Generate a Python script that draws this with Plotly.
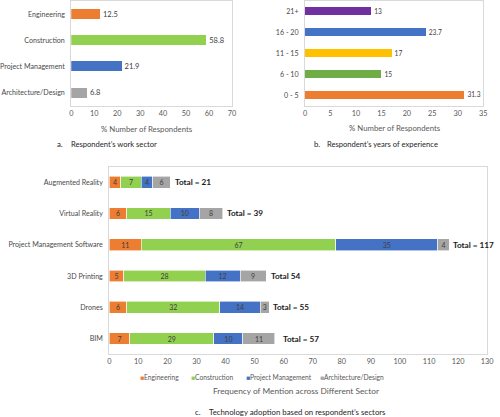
import plotly.graph_objects as go

# ---------------- data ----------------
sectors = ["Engineering", "Construction", "Project Management", "Architecture/Design"]
sector_pct = [12.5, 58.8, 21.9, 6.8]

experience = ["0 - 5", "6 - 10", "11 - 15", "16 - 20", "21+"]
experience_pct = [31.3, 15, 17, 23.7, 13]

technologies = ["Augmented Reality", "Virtual Reality", "Project Management Software",
                "3D Printing", "Drones", "BIM"]
tech_engineering = [4, 6, 11, 5, 6, 7]
tech_construction = [7, 15, 67, 28, 32, 29]
tech_pm = [4, 10, 35, 12, 14, 10]
tech_arch = [6, 8, 4, 9, 3, 11]
tech_total_labels = ["Total = 21", "Total = 39", "Total = 117", "Total 54", "Total = 55", "Total = 57"]

# ---------------- style ----------------
FONT = "Lato"
C_ENG = "#ED7D31"
C_CON = "#92D050"
C_PM = "#4472C4"
C_ARCH = "#A5A5A5"
sector_colors = [C_ENG, C_CON, C_PM, C_ARCH]
exp_colors = ["#ED7D31", "#70AD47", "#FFC000", "#4472C4", "#7030A0"]
TICK = "#595959"
LINE = "#D9D9D9"
W, H = 500, 417


def px_x(p):
    return p / W


def px_y(p):
    return 1 - p / H


fig = go.Figure()

# panel a
fig.add_trace(go.Bar(
    x=sector_pct, y=sectors, orientation="h", xaxis="x", yaxis="y",
    marker=dict(color=sector_colors, line=dict(width=0)),
    text=[f"{v:g}" for v in sector_pct], textposition="outside",
    textfont=dict(size=7.5, color="#404040", family=FONT),
    cliponaxis=False, showlegend=False, hoverinfo="skip"))

# panel b
fig.add_trace(go.Bar(
    x=experience_pct, y=experience, orientation="h", xaxis="x2", yaxis="y2",
    marker=dict(color=exp_colors, line=dict(width=0)),
    text=[f"{v:g}" for v in experience_pct], textposition="outside",
    textfont=dict(size=7.5, color="#404040", family=FONT),
    cliponaxis=False, showlegend=False, hoverinfo="skip"))

# panel c
series_c = [("Engineering", tech_engineering, C_ENG),
            ("Construction", tech_construction, C_CON),
            ("Project Management", tech_pm, C_PM),
            ("Architecture/Design", tech_arch, C_ARCH)]
for name, vals, col in series_c:
    fig.add_trace(go.Bar(
        x=vals, y=technologies, orientation="h", name=name, xaxis="x3", yaxis="y3",
        marker=dict(color=col, line=dict(color="white", width=0.6)),
        text=[str(v) for v in vals], textposition="inside", insidetextanchor="middle",
        textangle=0, constraintext="none",
        textfont=dict(size=7, color="#404040", family=FONT),
        showlegend=False, hoverinfo="skip"))

totals = [a + b + c + d for a, b, c, d in zip(tech_engineering, tech_construction, tech_pm, tech_arch)]
label_gaps = [3, 2, 2, 3, 2, 6]
annotations = []
for t, lab, tech, g in zip(totals, tech_total_labels, technologies, label_gaps):
    annotations.append(dict(x=t, y=tech, xref="x3", yref="y3", text=f"<b>{lab}</b>",
                            showarrow=False, xanchor="left", xshift=g,
                            font=dict(size=8.2, color="#1A1A1A", family=FONT)))


def txt(x, y, s, size, color, anchor="center"):
    annotations.append(dict(x=px_x(x), y=px_y(y), xref="paper", yref="paper", text=s,
                            showarrow=False, xanchor=anchor, yanchor="middle",
                            font=dict(size=size, color=color, family=FONT)))


# axis titles & captions
txt(145, 128, "% Number of Respondents", 7.8, TICK)
txt(399, 127, "% Number of Respondents", 7.8, TICK)
txt(298, 391, "Frequency of Mention across Different Sector", 8.3, TICK)
txt(50, 143, "a.", 7.8, "#262626", "left")
txt(65, 143, "Respondent\u2019s work sector", 7.6, "#262626", "left")
txt(314, 143, "b.", 7.8, "#262626", "left")
txt(328, 143, "Respondent\u2019s years of experience", 7.6, "#262626", "left")
txt(192, 412, "c.", 7.8, "#262626", "left")
txt(206, 412, "Technology adoption based on respondent\u2019s sectors", 7.8, "#262626", "left")

# compact legend for panel c
legend_x = [136, 188, 244, 320]
for (name, vals, col), lx in zip(series_c, legend_x):
    annotations.append(dict(x=px_x(lx), y=px_y(377), xref="paper", yref="paper",
                            text=f"<span style='color:{col}'>\u25A0</span>{name}",
                            showarrow=False, xanchor="left", yanchor="middle",
                            font=dict(size=6.7, color=TICK, family=FONT)))

xcommon = dict(showgrid=False, zeroline=False, showline=True, mirror=True, linecolor=LINE,
               linewidth=1, ticks="", tickfont=dict(size=7.3, color=TICK, family=FONT))
ycommon = dict(showgrid=False, zeroline=False, showline=True, mirror=True, linecolor=LINE,
               linewidth=1, ticks="", tickfont=dict(size=7.1, color="#4A4A4A", family=FONT),
               type="category", ticklabelstandoff=4)

fig.update_layout(
    width=W, height=H, margin=dict(l=0, r=0, t=0, b=0),
    paper_bgcolor="white", plot_bgcolor="white",
    barmode="stack", bargap=0.62, showlegend=False,
    font=dict(family=FONT, color=TICK),
    xaxis=dict(domain=[px_x(67), px_x(232)], range=[0, 70], dtick=10, anchor="y", **xcommon),
    yaxis=dict(domain=[px_y(105), px_y(0)], anchor="x", autorange="reversed", **ycommon),
    xaxis2=dict(domain=[px_x(307), px_x(490)], range=[0, 35], dtick=5, anchor="y2", **xcommon),
    yaxis2=dict(domain=[px_y(105), px_y(0)], anchor="x2", **ycommon),
    xaxis3=dict(domain=[px_x(106), px_x(494)], range=[0, 130], dtick=10, anchor="y3", **xcommon),
    yaxis3=dict(domain=[px_y(354), px_y(166)], anchor="x3", autorange="reversed", **ycommon),
    annotations=annotations,
)

fig.write_html("out.html", config={"displayModeBar": False},
               post_script="document.body.style.margin='0';")
